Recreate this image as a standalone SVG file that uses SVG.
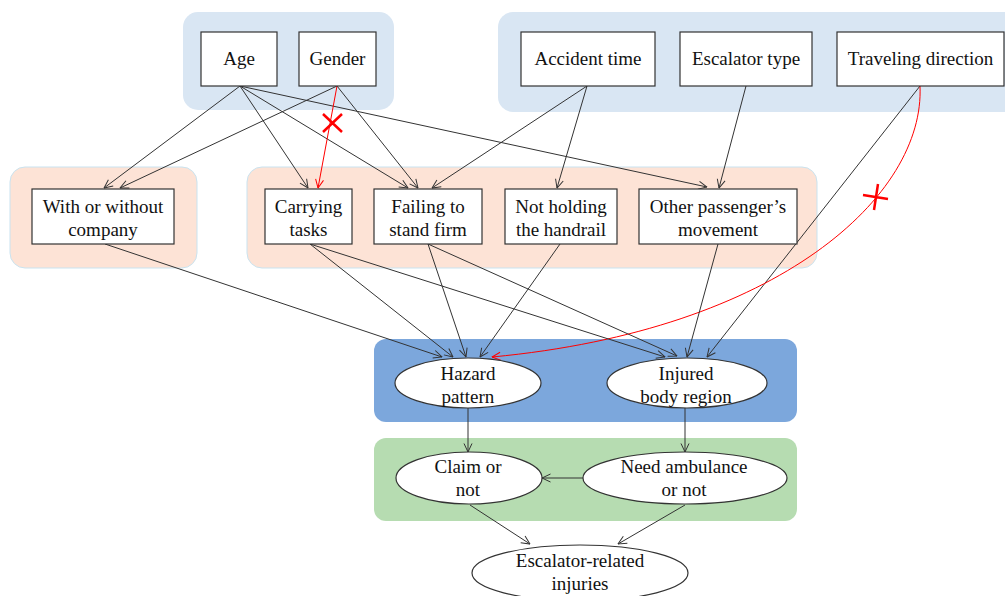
<svg xmlns="http://www.w3.org/2000/svg" width="1005" height="596" viewBox="0 0 1005 596">
<defs>
<marker id="ab" viewBox="0 0 10 10" refX="9.5" refY="5" markerWidth="10" markerHeight="10" markerUnits="userSpaceOnUse" orient="auto"><path d="M1,1 L9.5,5 L1,9" fill="none" stroke="#333" stroke-width="1"/></marker>
<marker id="ar" viewBox="0 0 10 10" refX="9.5" refY="5" markerWidth="10" markerHeight="10" markerUnits="userSpaceOnUse" orient="auto"><path d="M1,1 L9.5,5 L1,9" fill="none" stroke="#f00" stroke-width="1"/></marker>
</defs>
<style>
.gt{fill:#d9e6f3}
.gp{fill:#fde3d6;stroke:#c9e3f0;stroke-width:1}
.gb{fill:#7ca7dc}
.gg{fill:#b6dcb1}
.box{fill:#fff;stroke:#333;stroke-width:1.2}
.ell{fill:#fff;stroke:#333;stroke-width:1.2}
text{font-family:"Liberation Serif","Times New Roman",serif;font-size:19px;fill:#111;text-anchor:middle}
.e{fill:none;stroke:#333;stroke-width:1;marker-end:url(#ab)}
.r{fill:none;stroke:#f00;stroke-width:1;marker-end:url(#ar)}
.x{fill:none;stroke:#f00;stroke-width:2.5}
</style>
<rect width="1005" height="596" fill="#fff"/>
<g id="groups">
<rect class="gt" x="183" y="12" width="211" height="98" rx="15"/>
<rect class="gt" x="498" y="12" width="530" height="100" rx="15"/>
<rect class="gp" x="10" y="167" width="187" height="101" rx="15"/>
<rect class="gp" x="247" y="167" width="570" height="101" rx="15"/>
<rect class="gb" x="374" y="339" width="423" height="83" rx="12"/>
<rect class="gg" x="374" y="438" width="423" height="83" rx="12"/>
</g>
<g id="connectors">
<path class="e" d="M240,86 L104,188"/>
<path class="e" d="M337,86 L120,188"/>
<path class="e" d="M240,86 L308,188"/>
<path class="e" d="M240,86 L408,188"/>
<path class="e" d="M240,86 L707,187"/>
<path class="e" d="M337,86 L418,188"/>
<path class="r" d="M337,86 L318,188"/>
<path class="e" d="M587,86 L432,188"/>
<path class="e" d="M587,86 L557,188"/>
<path class="e" d="M746,86 L719,188"/>
<path class="e" d="M920,86 L707,357"/>
<path class="r" d="M920,86 C925,195 780,330 492,357"/>
<path class="e" d="M105,244 L442,357"/>
<path class="e" d="M310,244 L453,357"/>
<path class="e" d="M310,244 L665,357"/>
<path class="e" d="M428,244 L466,357"/>
<path class="e" d="M428,244 L677,356"/>
<path class="e" d="M560,244 L480,357"/>
<path class="e" d="M718,244 L687,357"/>
<path class="e" d="M468,408 L468,452"/>
<path class="e" d="M685,408 L685,452"/>
<path class="e" d="M583,478 L542,478"/>
<path class="e" d="M470,505 L530,544"/>
<path class="e" d="M685,505 L618,544"/>
<path class="x" d="M323,114 L342,132 M342,114 L323,132"/>
<path class="x" d="M863,195 L888,199 M878,184 L874,210"/>
</g>
<g id="n-age"><rect class="box" x="201" y="32" width="76" height="54"/><text x="239" y="65">Age</text></g>
<g id="n-gender"><rect class="box" x="299" y="32" width="77" height="54"/><text x="337.5" y="65">Gender</text></g>
<g id="n-accident"><rect class="box" x="521" y="32" width="134" height="54"/><text x="588" y="65">Accident time</text></g>
<g id="n-escalator"><rect class="box" x="680" y="32" width="132" height="54"/><text x="746" y="65">Escalator type</text></g>
<g id="n-direction"><rect class="box" x="837" y="32" width="167" height="54"/><text x="920.5" y="65">Traveling direction</text></g>
<g id="n-company"><rect class="box" x="32" y="189" width="142" height="55"/><text x="103" y="213">With or without</text><text x="103" y="236">company</text></g>
<g id="n-carrying"><rect class="box" x="265" y="189" width="87" height="55"/><text x="308.5" y="213">Carrying</text><text x="308.5" y="236">tasks</text></g>
<g id="n-failing"><rect class="box" x="374" y="189" width="108" height="55"/><text x="428" y="213">Failing to</text><text x="428" y="236">stand firm</text></g>
<g id="n-handrail"><rect class="box" x="505" y="189" width="112" height="55"/><text x="561" y="213">Not holding</text><text x="561" y="236">the handrail</text></g>
<g id="n-other"><rect class="box" x="639" y="189" width="158" height="55"/><text x="718" y="213">Other passenger’s</text><text x="718" y="236">movement</text></g>
<g id="n-hazard"><ellipse class="ell" cx="468" cy="383" rx="73" ry="25"/><text x="468" y="380">Hazard</text><text x="468" y="403">pattern</text></g>
<g id="n-injured"><ellipse class="ell" cx="687" cy="383" rx="80" ry="25"/><text x="686" y="380">Injured</text><text x="686" y="403">body region</text></g>
<g id="n-claim"><ellipse class="ell" cx="469" cy="478" rx="73" ry="26"/><text x="468" y="473">Claim or</text><text x="468" y="496">not</text></g>
<g id="n-ambulance"><ellipse class="ell" cx="685" cy="478" rx="102" ry="26"/><text x="684" y="473">Need ambulance</text><text x="684" y="496">or not</text></g>
<g id="n-injuries"><ellipse class="ell" cx="580" cy="573" rx="108" ry="28"/><text x="580" y="567">Escalator-related</text><text x="580" y="590">injuries</text></g>
</svg>
